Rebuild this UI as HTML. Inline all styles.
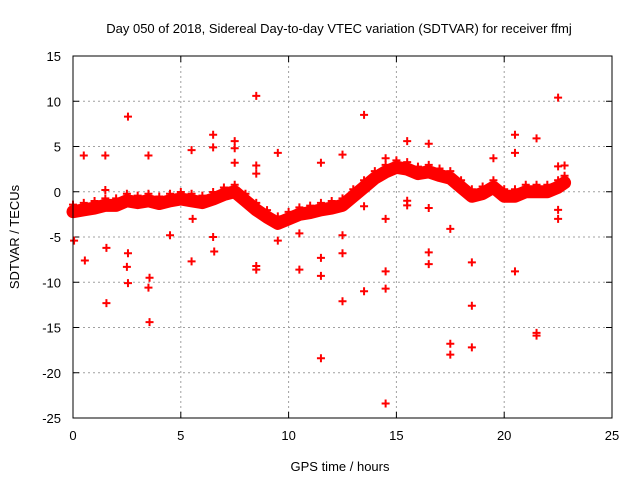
<!DOCTYPE html>
<html><head><meta charset="utf-8"><style>
body{margin:0;background:#fff}
text{font-family:"Liberation Sans",sans-serif;font-size:13px;fill:#000}
</style></head><body>
<svg id="c" width="640" height="480" xmlns="http://www.w3.org/2000/svg">
<text x="339" y="33" text-anchor="middle">Day 050 of 2018, Sidereal Day-to-day VTEC variation (SDTVAR) for receiver ffmj</text>
<text transform="translate(19,237) rotate(-90)" text-anchor="middle">SDTVAR / TECUs</text>
<text x="340" y="471" text-anchor="middle">GPS time / hours</text>
<g id="grid"></g><g id="band"></g><g id="pts"></g>
<rect x="73" y="56" width="539" height="362" fill="none" stroke="#000" stroke-width="1"/>
</svg>
<script>
const xTicks=[0,5,10,15,20,25];
const yTicks=[15,10,5,0,-5,-10,-15,-20,-25];
const bandHours=[0,0.5,1,1.5,2,2.5,3,3.5,4,4.5,5,5.5,6,6.5,7,7.5,8,8.5,9,9.5,10,10.5,11,11.5,12,12.5,13,13.5,14,14.5,15,15.5,16,16.5,17,17.5,18,18.5,19,19.5,20,20.5,21,21.5,22,22.5,22.8];
const bandValues=[-2.2,-2.0,-1.8,-1.5,-1.5,-1.0,-1.2,-1.0,-1.3,-1.0,-0.8,-1.0,-1.2,-0.8,-0.3,0,-1.0,-2.0,-2.8,-3.5,-3.0,-2.5,-2.3,-2.0,-1.8,-1.5,-0.5,0.5,1.5,2.2,2.7,2.5,2.0,2.2,1.8,1.5,0.5,-0.5,-0.2,0.5,-0.5,-0.5,0,0,0,0.5,1.0];
const outHours=[0.05,0.5,0.55,1.5,1.55,1.55,1.5,2.55,2.55,2.5,2.55,3.5,3.55,3.5,3.55,4.5,5.5,5.5,5.55,6.5,6.5,6.55,6.5,7.5,7.5,7.5,8.5,8.5,8.5,8.5,8.5,9.5,9.5,10.5,10.5,11.5,11.5,11.5,11.5,12.5,12.5,12.5,12.5,13.5,13.5,13.5,14.5,14.5,14.5,14.5,14.5,15.5,15.5,15.5,16.5,16.5,16.5,16.5,17.5,17.5,17.5,18.5,18.5,18.5,19.5,20.5,20.5,20.5,21.5,21.5,21.5,22.5,22.5,22.5,22.5,22.8];
const outValues=[-5.4,4.0,-7.6,4.0,-6.2,-12.3,0.2,8.3,-6.8,-8.3,-10.1,4.0,-9.5,-10.6,-14.4,-4.8,4.6,-7.7,-3.0,6.3,4.9,-6.6,-5.0,5.6,4.8,3.2,10.6,2.9,2.0,-8.2,-8.6,4.3,-5.4,-8.6,-4.6,3.2,-7.3,-9.3,-18.4,4.1,-4.8,-6.8,-12.1,8.5,-11.0,-1.6,-3.0,-8.8,-10.7,-23.4,3.7,5.6,-1.0,-1.5,5.3,-1.8,-6.7,-8.0,-4.1,-16.8,-18.0,-7.8,-12.6,-17.2,3.7,6.3,4.3,-8.8,5.9,-15.6,-15.9,10.4,2.8,-2.0,-3.0,2.9];
const X0=73,X1=612,Y0=418,Y1=56;
const sx=v=>X0+(v-0)/(25-0)*(X1-X0);
const sy=v=>Y0-(v+25)/(40)*(Y0-Y1);
const NS="http://www.w3.org/2000/svg";
function mk(t,a,p){const e=document.createElementNS(NS,t);for(const k in a)e.setAttribute(k,a[k]);p.appendChild(e);return e;}
const grid=document.getElementById('grid'),band=document.getElementById('band'),pts=document.getElementById('pts'),svg=document.getElementById('c');
xTicks.forEach(t=>{const x=sx(t);
 if(t>0&&t<25){const l=mk('line',{x1:x,x2:x,y1:Y1,y2:Y0,stroke:'#a0a0a0','stroke-dasharray':'2,3'},grid);
 
 }
 mk('line',{x1:x,x2:x,y1:Y0,y2:Y0-6,stroke:'#000'},grid);mk('line',{x1:x,x2:x,y1:Y1,y2:Y1+6,stroke:'#000'},grid);
 const tx=mk('text',{x:x,y:Y0+22,'text-anchor':'middle'},svg);tx.textContent=t;
 
 });
yTicks.forEach(t=>{const y=sy(t);
 if(t>-25&&t<15){const l=mk('line',{x1:X0,x2:X1,y1:y,y2:y,stroke:'#a0a0a0','stroke-dasharray':'2,3'},grid);
 
 }
 mk('line',{x1:X0,x2:X0+6,y1:y,y2:y,stroke:'#000'},grid);mk('line',{x1:X1,x2:X1-6,y1:y,y2:y,stroke:'#000'},grid);
 const tx=mk('text',{x:X0-12,y:y+5,'text-anchor':'end'},svg);tx.textContent=t;
 
 });
const pl=mk('polyline',{points:bandHours.map((h,i)=>sx(h)+','+sy(bandValues[i])).join(' '),fill:'none',stroke:'#f00','stroke-width':13,'stroke-linejoin':'round','stroke-linecap':'round'},band);


function plus(x,y,name){const p=mk('path',{d:`M${x-4},${y}h8M${x},${y-4}v8`,stroke:'#f00','stroke-width':2,fill:'none'},pts);
 
 }
bandHours.forEach((h,i)=>plus(sx(h),sy(bandValues[i])-7,'band-point'));
outHours.forEach((h,i)=>plus(sx(h),sy(outValues[i]),'outlier-point'));
</script>
</body></html>
